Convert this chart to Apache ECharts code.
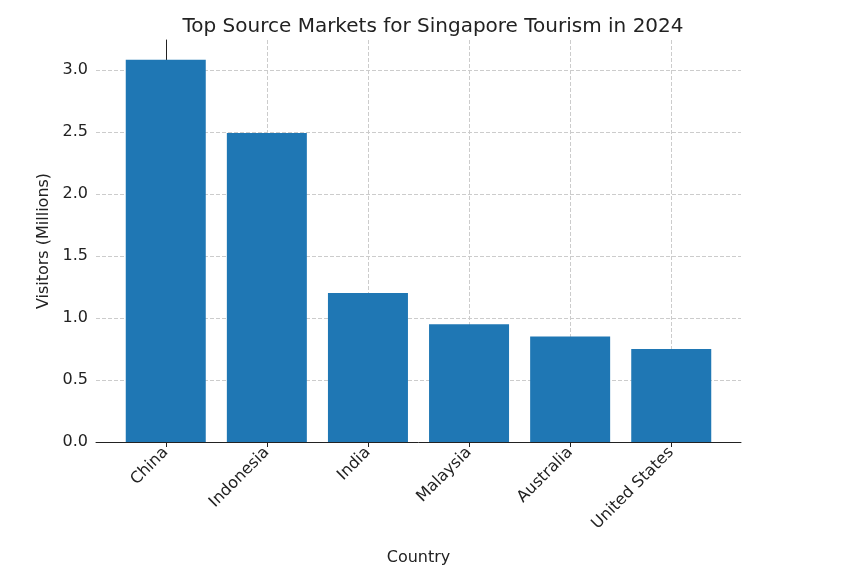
<!DOCTYPE html><html><head><meta charset="utf-8"><script src="https://cdn.jsdelivr.net/npm/echarts@6/dist/echarts.min.js"></script></head><body style="margin:0"><div id="c" style="width:866px;height:581px"></div><script>
const categories=["China","Indonesia","India","Malaysia","Australia","United States"];
const visitors=[3.08,2.49,1.2,0.95,0.85,0.75];
const yTicks=[0,0.5,1.0,1.5,2.0,2.5,3.0];
const chart=echarts.init(document.getElementById('c'));
const grid='#cccccc';
chart.setOption({
 animation:false,
 title:{text:'Top Source Markets for Singapore Tourism in 2024',left:'center',top:12,textStyle:{fontFamily:'DejaVu Sans',fontSize:20,fontWeight:'normal',color:'#222'}},
 grid:{left:96,right:125,top:40,bottom:139},
 xAxis:{type:'value',min:-0.69,max:5.69,name:'Country',nameLocation:'middle',nameGap:108,nameTextStyle:{fontFamily:'DejaVu Sans',fontSize:16,color:'#222'},
  axisLine:{lineStyle:{color:'#222'}},axisTick:{customValues:[0,1,2,3,4,5],lineStyle:{color:'#222'}},
  axisLabel:{customValues:[0,1,2,3,4,5],rotate:45,fontFamily:'DejaVu Sans',fontSize:16,color:'#222',formatter:v=>categories[Math.round(v)]},
  splitLine:{show:true,lineStyle:{type:'dashed',color:grid}}},
 yAxis:{type:'value',min:0,max:3.24,name:'Visitors (Millions)',nameLocation:'middle',nameGap:44,nameTextStyle:{fontFamily:'DejaVu Sans',fontSize:16,color:'#222'},
  axisLine:{show:true,lineStyle:{color:'#222'}},axisTick:{show:true,customValues:yTicks,lineStyle:{color:'#222'}},
  axisLabel:{customValues:yTicks,fontFamily:'DejaVu Sans',fontSize:16,color:'#222',formatter:v=>v.toFixed(1)},
  splitLine:{show:true,lineStyle:{type:'dashed',color:grid}}},
 series:[{type:'bar',barWidth:80,itemStyle:{color:'#1f77b4'},data:visitors.map((v,i)=>[i,v])}]
});
</script></body></html>
